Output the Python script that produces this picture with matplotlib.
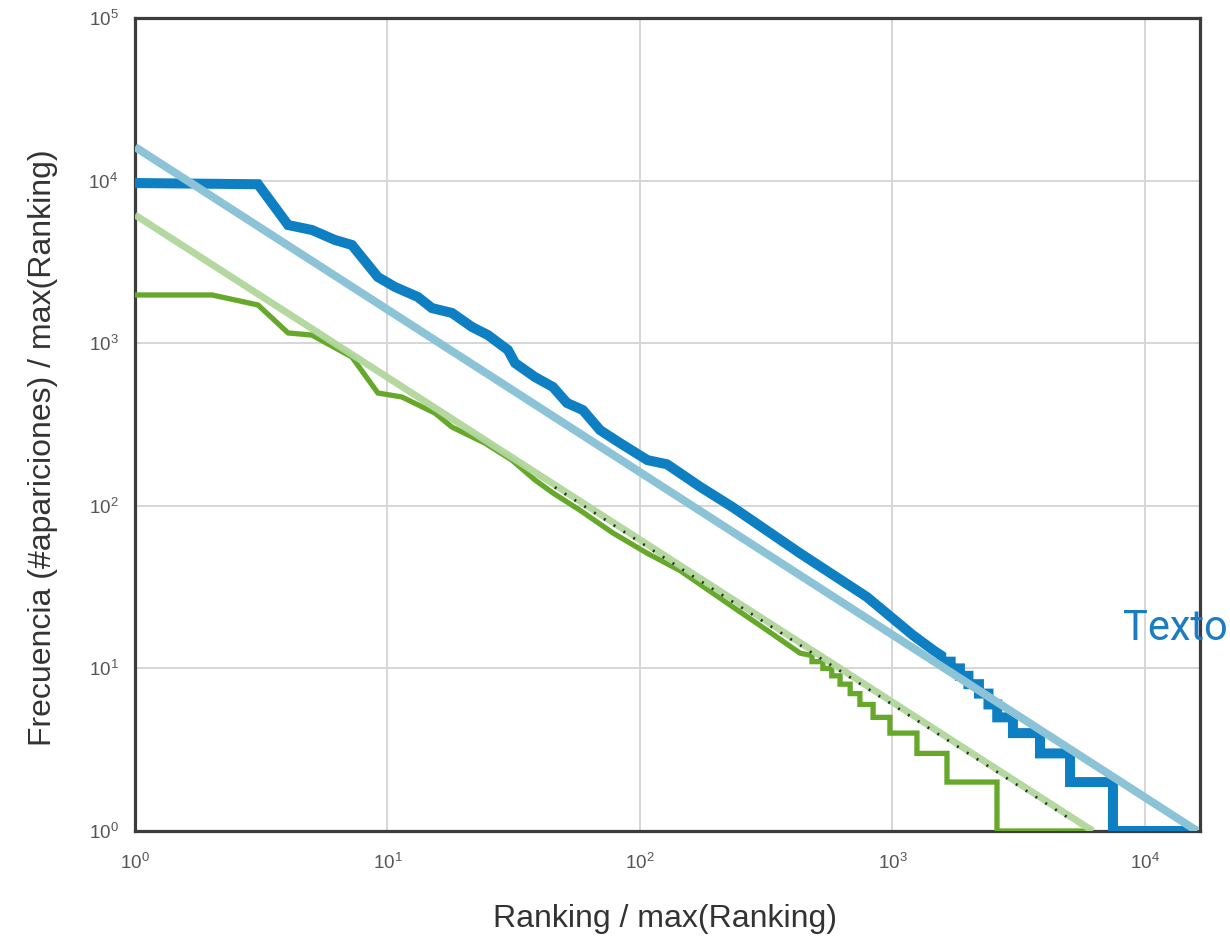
import numpy as np
import matplotlib
matplotlib.use("Agg")
import matplotlib.pyplot as plt
from matplotlib.ticker import LogLocator, NullLocator

plt.rcParams['font.family'] = ['Liberation Sans', 'DejaVu Sans']
plt.rcParams['mathtext.fontset'] = 'custom'
plt.rcParams['mathtext.rm'] = 'Liberation Sans'
plt.rcParams['mathtext.it'] = 'Liberation Sans:italic'

# ---- data ----
texto_rank = [1, 3.07, 4.04, 5.02, 6.19, 7.23, 9.16, 10.7, 13.2, 15.0, 18.0, 21.6, 25.0,
              30.0, 32.0, 38.4, 45.2, 51.4, 59.4, 69.5, 83.4, 107, 128, 144, 173, 233,
              431, 792, 1205, 1445,
              1560, 1560, 1700, 1700, 1850, 1850, 2000, 2000, 2200, 2200, 2400, 2400,
              2600, 2600, 3000, 3000, 3840, 3840, 5050, 5050, 7470, 7470, 16100]
texto_freq = [9660, 9500, 5330, 4970, 4315, 4018, 2553, 2218, 1923, 1644, 1535, 1259, 1122,
              908, 755, 619, 538, 429, 388, 292, 243, 191, 180, 159, 131, 98,
              51, 27.5, 16, 13,
              12, 11, 11, 10, 10, 9, 9, 8, 8, 7, 7, 6,
              6, 5, 5, 4, 4, 3, 3, 2, 2, 1, 1]

otro_rank = [1, 2.02, 3.07, 4.04, 5.02, 7.23, 9.16, 11.4, 15.4, 18.0, 24.3, 31.1, 38.4,
             45.2, 57.8, 78.2, 107, 144, 233, 318, 431,
             480, 480, 530, 530, 575, 575, 620, 620, 680, 680, 743, 743, 838, 838,
             977, 977, 1250, 1250, 1644, 1644, 2594, 2594, 6220]
otro_freq = [1980, 1980, 1718, 1156, 1122, 822, 494, 467, 372, 305, 243, 191, 144,
             120, 94, 68, 51, 40, 23.9, 17.2, 12.4,
             12, 11, 11, 10, 10, 9, 9, 8, 8, 7, 7, 6, 6, 5,
             5, 4, 4, 3, 3, 2, 2, 1, 1]

fit_texto_rank = [1, 16100]
fit_texto_freq = [16100, 1]
fit_otro_rank = [1, 6220]
fit_otro_freq = [6150, 1]
ref_rank = [46, 4950]
ref_freq = [130, 1.21]

x_max = 16520

# ---- figure ----
fig = plt.figure(figsize=(12.3, 9.4), dpi=100)
ax = fig.add_axes([135 / 1230, 109 / 940, 1065 / 1230, 813 / 940])
ax.set_xscale('log')
ax.set_yscale('log')
ax.set_xlim(1, x_max)
ax.set_ylim(1, 1e5)

ax.plot(texto_rank, texto_freq, color='#0d7fc2', lw=7.2, solid_joinstyle='miter',
        solid_capstyle='butt', zorder=3)
ax.plot(otro_rank, otro_freq, color='#66a82a', lw=3.8, solid_joinstyle='miter',
        solid_capstyle='butt', zorder=3)
ax.plot(fit_otro_rank, fit_otro_freq, color='#b0d69a', lw=5.0, alpha=0.95,
        solid_capstyle='butt', zorder=4)
ax.plot(fit_texto_rank, fit_texto_freq, color='#8cc3d6', lw=5.8,
        solid_capstyle='butt', zorder=4)
ax.plot(ref_rank, ref_freq, color='#2a2a2a', lw=2.0, linestyle=(0, (0.7, 3.5)),
        zorder=5)

ax.xaxis.set_major_locator(LogLocator(base=10, numticks=10))
ax.yaxis.set_major_locator(LogLocator(base=10, numticks=10))
ax.xaxis.set_minor_locator(NullLocator())
ax.yaxis.set_minor_locator(NullLocator())
ax.grid(True, which='major', color='#d6d6d6', lw=1.4, zorder=0)
ax.set_axisbelow(True)
ax.tick_params(axis='both', length=0, labelsize=13.5, labelcolor='#555555')
ax.tick_params(axis='x', pad=16)
ax.tick_params(axis='y', pad=12)
for s in ax.spines.values():
    s.set_color('#3c3c3c')
    s.set_linewidth(2.3)

ax.set_xlabel('Ranking / max(Ranking)', fontsize=23, color='#333333')
ax.set_ylabel('Frecuencia (#apariciones) / max(Ranking)', fontsize=23, color='#333333')
ax.xaxis.set_label_coords(0.498, -0.09)
ax.yaxis.set_label_coords(-0.072, 0.472)

fig.text(1123 / 1230, 1 - 629 / 940, 'Texto', fontsize=30, color='#1b7cc1',
         family=['Roboto', 'DejaVu Sans'], va='center', ha='left')

fig.savefig('out.png', dpi=100)
